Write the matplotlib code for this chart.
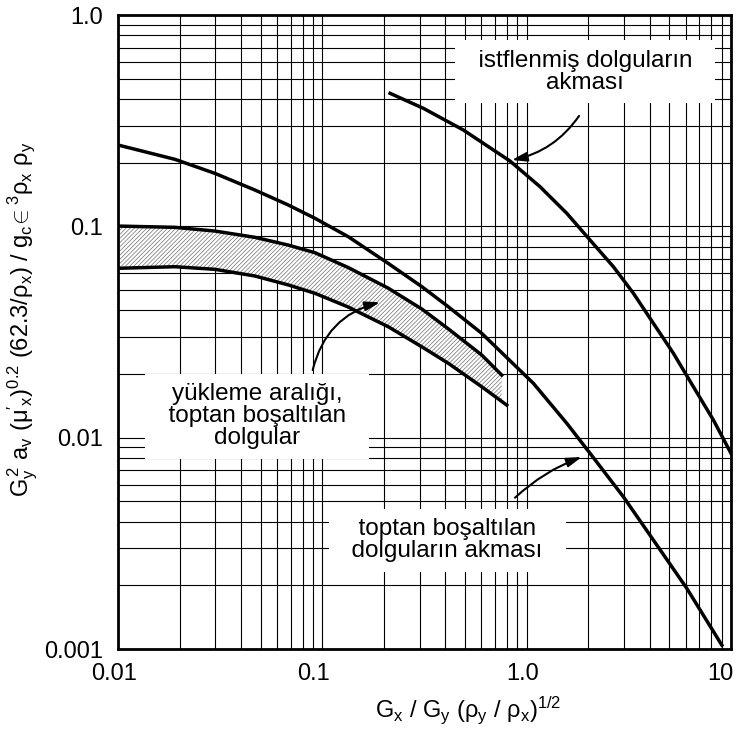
import numpy as np
import matplotlib
matplotlib.use("Agg")
import matplotlib.pyplot as plt
import matplotlib.transforms as mtransforms
from matplotlib.ticker import LogLocator, NullFormatter

plt.rcParams['font.family'] = ['Liberation Sans', 'DejaVu Sans']
plt.rcParams['mathtext.fontset'] = 'custom'
plt.rcParams['mathtext.rm'] = 'Liberation Sans'
plt.rcParams['mathtext.it'] = 'Liberation Sans:italic'
plt.rcParams['hatch.linewidth'] = 0.5
plt.rcParams['hatch.color'] = '#707070'

# flooding line of dumped (random) packings
dumped_x = [0.01, 0.0190, 0.0298, 0.0468, 0.0682, 0.0921, 0.134, 0.210, 0.307, 0.414,
            0.603, 1.079, 1.572, 2.043, 2.974, 4.171, 6.076, 9.02]
dumped_y = [0.2426, 0.2075, 0.1781, 0.1485, 0.1261, 0.1091, 0.0893, 0.0668, 0.0518, 0.0416,
            0.03115, 0.01807, 0.01169, 0.00843, 0.00525, 0.003276, 0.001936, 0.001043]

# flooding line of stacked packings
stacked_x = [0.2145, 0.3122, 0.4899, 0.829, 1.163, 1.572, 2.043, 2.657, 3.330, 4.171,
             5.227, 6.546, 8.201, 10.0]
stacked_y = [0.426, 0.3618, 0.2856, 0.2037, 0.1539, 0.1152, 0.0861, 0.0644, 0.0482, 0.03475,
             0.02506, 0.01741, 0.01212, 0.00843]

# loading range of dumped packings (upper and lower edge of the band)
band_top_x = [0.01, 0.0190, 0.0298, 0.0468, 0.0682, 0.0921, 0.134, 0.210, 0.307, 0.414,
              0.603, 0.755]
band_top_y = [0.1003, 0.0989, 0.0950, 0.0887, 0.0815, 0.0750, 0.0638, 0.0510, 0.0406, 0.0327,
              0.0246, 0.01978]
band_bot_x = [0.01, 0.0190, 0.0298, 0.0468, 0.0682, 0.0921, 0.134, 0.210, 0.307, 0.414,
              0.603, 0.799]
band_bot_y = [0.0633, 0.0644, 0.0626, 0.0582, 0.0528, 0.0482, 0.0415, 0.0335, 0.0269, 0.02247,
              0.01741, 0.01426]

x_ticks = [0.01, 0.1, 1.0, 10]
x_tick_labels = ['0.01', '0.1', '1.0', '10']
y_ticks = [0.001, 0.01, 0.1, 1.0]
y_tick_labels = ['0.001', '0.01', '0.1', '1.0']

label_stacked = '  istflenmiş dolguların  \nakması'
label_band = 'yükleme aralığı,\n  toptan boşaltılan  \ndolgular'
label_dumped = '  toptan boşaltılan  \n  dolguların akması  '

fig = plt.figure(figsize=(7.37, 7.29), dpi=100)
ax = fig.add_axes([118 / 737, 1 - 649 / 729, 613 / 737, 634 / 729])
ax.set_xscale('log')
ax.set_yscale('log')
ax.set_xlim(0.01, 10)
ax.set_ylim(0.001, 1.0)

# grid on every decade and every minor step
ax.xaxis.set_minor_locator(LogLocator(base=10, subs=np.arange(2, 10)))
ax.yaxis.set_minor_locator(LogLocator(base=10, subs=np.arange(2, 10)))
ax.xaxis.set_minor_formatter(NullFormatter())
ax.yaxis.set_minor_formatter(NullFormatter())
ax.grid(True, which='both', color='black', lw=0.8, zorder=1)
ax.set_axisbelow(True)

ax.set_xticks(x_ticks, labels=x_tick_labels)
ax.set_yticks(y_ticks, labels=y_tick_labels)
ax.tick_params(which='both', length=0, labelsize=17)
ax.tick_params(axis='x', pad=10)
ax.tick_params(axis='y', pad=11)
# labels in the original sit a little left of their grid lines
for lab, dx in zip(ax.get_xticklabels(), [-4, -9, -4, -11]):
    lab.set_transform(lab.get_transform() +
                      mtransforms.ScaledTranslation(dx / 100, 0, fig.dpi_scale_trans))

for s in ax.spines.values():
    s.set_linewidth(2)

# hatched band
lt = np.log10(band_top_x)
bot_on_top = 10 ** np.interp(lt, np.log10(band_bot_x), np.log10(band_bot_y))
ax.fill_between(band_top_x, bot_on_top, band_top_y, facecolor='white',
                hatch='////////', edgecolor='#707070', lw=0, zorder=2)

lw = 2.5
for xs, ys in [(dumped_x, dumped_y), (stacked_x, stacked_y),
               (band_top_x, band_top_y), (band_bot_x, band_bot_y)]:
    ax.plot(xs, ys, color='black', lw=lw, zorder=4, solid_joinstyle='round')

box = dict(boxstyle='square,pad=0.4', fc='white', ec='none')
ax.text(1.93, 0.54, label_stacked, fontsize=17.5, ha='center', va='center',
        linespacing=1.0, bbox=box, zorder=5)
ax.text(0.0479, 0.0126, label_band, fontsize=17.5, ha='center', va='center',
        linespacing=1.0, bbox=box, zorder=5)
ax.text(0.408, 0.00327, label_dumped, fontsize=17.5, ha='center', va='center',
        linespacing=1.0, bbox=box, zorder=5)

arrow = dict(arrowstyle='-|>,head_length=0.9,head_width=0.28', color='black',
             lw=1.5, shrinkA=0, shrinkB=0)
ax.annotate('', xy=(0.846, 0.206), xytext=(1.805, 0.333),
            arrowprops=dict(arrow, connectionstyle='arc3,rad=-0.2'), zorder=6)
ax.annotate('', xy=(1.86, 0.0081), xytext=(0.877, 0.0052),
            arrowprops=dict(arrow, connectionstyle='arc3,rad=-0.1'), zorder=6)
ax.annotate('', xy=(0.1916, 0.0437), xytext=(0.0897, 0.0209),
            arrowprops=dict(arrow, connectionstyle='arc3,rad=-0.3'), zorder=6)

ax.set_xlabel(r'$\mathrm{G_x\ /\ G_y\ (\rho_y\ /\ \rho_x)^{1/2}}$', fontsize=17)
ax.xaxis.set_label_coords(0.571, -0.072)
ax.set_ylabel(r"$\mathrm{G_y^{\,2}\ a_v\ (\mu'_x)^{0.2}\ (62.3/\rho_x)\ /\ g_c\!\in^3\rho_x\ \rho_y}$",
              fontsize=17)
ax.yaxis.set_label_coords(-0.127, 0.52)

fig.savefig('out.png', dpi=100)
